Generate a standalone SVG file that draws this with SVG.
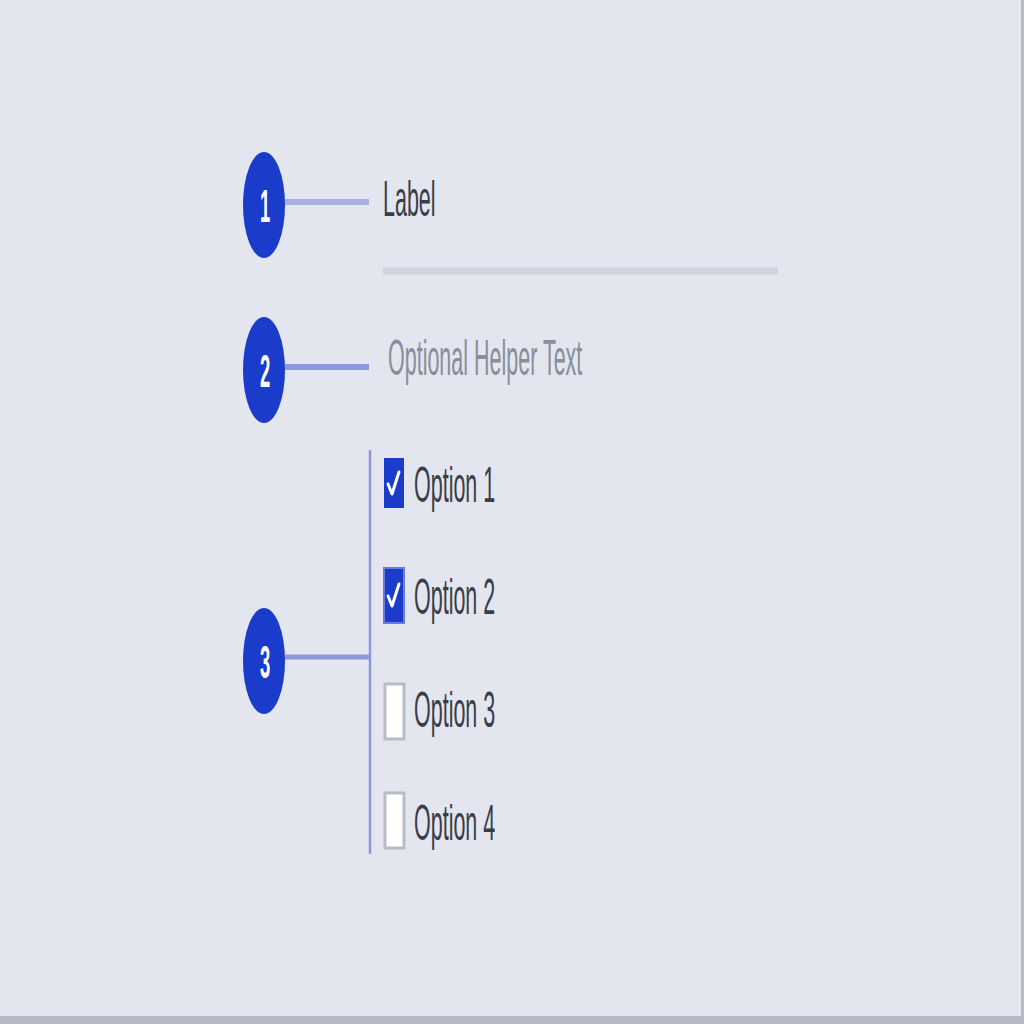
<svg xmlns="http://www.w3.org/2000/svg" width="1024" height="1024" viewBox="0 0 1024 1024">
<style>
.badge{fill:#1B3BCB}
.num{fill:#ffffff;font-family:"Liberation Sans",Arial,sans-serif;font-size:46px;font-weight:bold;text-anchor:middle}
.txt{font-family:"Liberation Sans",Arial,sans-serif;font-size:50px}
.conn{stroke:#8E97DA;fill:none}
.cb-on{fill:#1B3BCB}
.cb-off{fill:#FFFFFF;stroke:#B8BCC8;stroke-width:3}
.check{fill:none;stroke:#FFFFFF;stroke-width:3;stroke-linecap:round;stroke-linejoin:round}
</style>
<rect x="0" y="0" width="1024" height="1024" fill="#E3E6EF"/>
<rect x="0" y="1016" width="1024" height="8" fill="#B7BAC4"/>
<rect x="1021" y="0" width="3" height="1024" fill="#B7BAC4"/>

<g id="connectors">
<line class="conn" x1="285" y1="202" x2="369" y2="202" stroke-width="6" style="stroke:#AAB1E2"/>
<line class="conn" x1="285" y1="367" x2="369" y2="367" stroke-width="6"/>
<line class="conn" x1="285" y1="657" x2="370" y2="657" stroke-width="5"/>
<line class="conn" x1="370" y1="450" x2="370" y2="854" stroke-width="2.5"/>
</g>

<g id="divider">
<line x1="383" y1="271" x2="778" y2="271" stroke="#D0D3E0" stroke-width="7"/>
</g>

<g id="badge1">
<ellipse class="badge" cx="264" cy="205" rx="21" ry="53"/>
<text class="num" transform="translate(265,222) scale(0.4,1)">1</text>
</g>
<g id="badge2">
<ellipse class="badge" cx="264" cy="370" rx="21" ry="53"/>
<text class="num" transform="translate(265,387) scale(0.4,1)">2</text>
</g>
<g id="badge3">
<ellipse class="badge" cx="264" cy="661" rx="21" ry="53"/>
<text class="num" transform="translate(265,678) scale(0.4,1)">3</text>
</g>

<g id="label">
<text class="txt" fill="#3A3D4A" transform="translate(383,216) scale(0.43,1)">Label</text>
</g>
<g id="helper">
<text class="txt" fill="#8A8E9C" transform="translate(388,375) scale(0.43,1)">Optional Helper Text</text>
</g>

<g id="option1">
<rect class="cb-on" x="384" y="458" width="20" height="50"/>
<polyline class="check" points="388,484 392,494 399,472"/>
<text class="txt" fill="#3A3D4A" transform="translate(414,502) scale(0.43,1)">Option 1</text>
</g>
<g id="option2">
<rect class="cb-on" x="384" y="568" width="20" height="55" style="stroke:#6C7BD8;stroke-width:2"/>
<polyline class="check" points="388,596 392,606 399,584"/>
<text class="txt" fill="#3A3D4A" transform="translate(414,614) scale(0.43,1)">Option 2</text>
</g>
<g id="option3">
<rect class="cb-off" x="385" y="684" width="19" height="55"/>
<text class="txt" fill="#3A3D4A" transform="translate(414,727) scale(0.43,1)">Option 3</text>
</g>
<g id="option4">
<rect class="cb-off" x="385" y="793" width="19" height="55"/>
<text class="txt" fill="#3A3D4A" transform="translate(414,840) scale(0.43,1)">Option 4</text>
</g>
</svg>
